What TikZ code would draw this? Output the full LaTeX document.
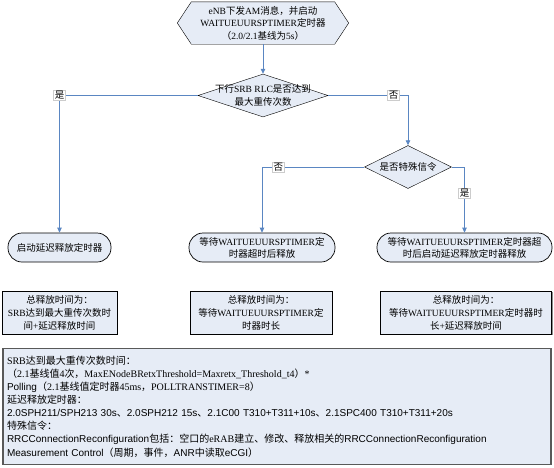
\documentclass[tikz,border=0pt]{standalone}
\usepackage{fontspec}
\setmainfont{Liberation Serif}
\newfontfamily\cjk{Noto Sans CJK SC}
\newfontfamily\arial{Liberation Sans}
% switch to the CJK font for Chinese characters
\XeTeXinterchartokenstate=1
\newXeTeXintercharclass\zhclass
\newcount\zhc
\def\zhrange#1#2{\zhc=#1 \loop\XeTeXcharclass\zhc=\zhclass \ifnum\zhc<#2 \advance\zhc by 1 \repeat}
\zhrange{"3000}{"303F}
\zhrange{"4E00}{"9FFF}
\zhrange{"FF00}{"FFEF}
\XeTeXinterchartoks 0 \zhclass = {\begingroup\cjk}
\XeTeXinterchartoks 4095 \zhclass = {\begingroup\cjk}
\XeTeXinterchartoks \zhclass 0 = {\endgroup}
\XeTeXinterchartoks \zhclass 4095 = {\endgroup}
\usepackage{tikz}
\usetikzlibrary{arrows.meta,shapes.geometric,positioning,backgrounds,shadows}
\definecolor{boxfill}{HTML}{E6ECF6}
\definecolor{linkblue}{HTML}{5A86C2}

\begin{document}
\begin{tikzpicture}[x=1pt, y=-1pt,
    flow/.style={font=\fontsize{9.5}{12.5}\selectfont, align=center, inner sep=0pt},
    dec/.style={draw, diamond, fill=boxfill, minimum width=130pt, minimum height=43pt, inner sep=0pt},
    endbox/.style={draw, rounded corners=14pt, fill=boxfill, line width=0.7pt, minimum height=29pt, inner sep=0pt, align=center, font=\fontsize{9.5}{12}\selectfont},
    sumbox/.style={draw, fill=boxfill, minimum height=43pt, inner sep=0pt, align=center, font=\fontsize{9.5}{13}\selectfont, drop shadow={shadow xshift=1pt, shadow yshift=-1pt, fill=black!45, opacity=1}},
    notebox/.style={draw=black!65, line width=1.2pt, fill=boxfill, text width=540pt, inner xsep=4pt, minimum height=116pt, align=left, font=\fontsize{10}{13.1}\selectfont},
    arr/.style={-{Triangle[length=5pt,width=4.5pt]}, linkblue, line width=0.8pt},
    lbl/.style={font=\fontsize{9.5}{11}\selectfont, fill=white, draw=black!20, text=black, inner sep=1pt}
]
\useasboundingbox (0,0) rectangle (554,467);

\node[flow, minimum width=171pt, minimum height=42pt] (start) at (263,23) {eNB下发AM消息，并启动\\WAITUEUURSPTIMER定时器\\（2.0/2.1基线为5s）};
\begin{scope}[on background layer]
\draw[fill=boxfill] (start.west) -- ([xshift=14pt]start.north west) -- ([xshift=-14pt]start.north east)
    -- (start.east) -- ([xshift=-14pt]start.south east) -- ([xshift=14pt]start.south west) -- cycle;
\end{scope}

\node[dec] (q1) at (263,95.5) {};
\node[flow] (q1txt) at (q1) {下行SRB RLC是否达到\\最大重传次数};
\node[dec, minimum width=87pt] (q2) at (408,167) {};
\node[flow] (q2txt) at (q2) {是否特殊信令};

\node[endbox, minimum width=103pt] (go1) at (59.5,247.5) {启动延迟释放定时器};
\node[endbox, minimum width=146pt] (go2) at (262,247.5) {等待WAITUEUURSPTIMER定\\时器超时后释放};
\node[endbox, minimum width=175pt] (go3) at (464.5,247.5) {等待WAITUEUURSPTIMER定时器超\\时后启动延迟释放定时器释放};

\node[sumbox, minimum width=115pt] (sum1) at (59.5,312.5) {总释放时间为：\\SRB达到最大重传次数时\\间+延迟释放时间};
\node[sumbox, minimum width=142pt] (sum2) at (261,312.5) {总释放时间为：\\等待WAITUEUURSPTIMER定\\时器时长};
\node[sumbox, minimum width=171pt] (sum3) at (466,312.5) {总释放时间为：\\等待WAITUEUURSPTIMER定时器时\\长+延迟释放时间};

\node[notebox] (note) at (277,406.5) {SRB达到最大重传次数时间：\\
（2.1基线值4次，MaxENodeBRetxThreshold=Maxretx\_Threshold\_t4）*\\
{\arial Polling}（2.1基线值定时器45ms，POLLTRANSTIMER=8）\\
延迟释放定时器：\\
{\arial 2.0SPH211/SPH213 30s、2.0SPH212 15s、2.1C00 T310+T311+10s、2.1SPC400 T310+T311+20s}\\
特殊信令：\\
{\arial RRCConnectionReconfiguration包括：空口的}eRAB{\arial 建立、修改、释放相关的RRCConnectionReconfiguration}\\
{\arial Measurement Control（周期，事件，ANR中读取eCGI）}};

\draw[arr] (start) -- (q1);
\draw[arr] (q1.west) -| node[lbl, pos=0.5] {是} (go1.north);
\draw[arr] (q1.east) -| node[lbl, pos=0.41] {否} (q2.north);
\draw[arr] (q2.west) -| node[lbl, pos=0.42] {否} (go2.north);
\draw[arr] (q2.east) -| node[lbl, pos=0.7] {是} (go3.north);
\end{tikzpicture}
\end{document}
